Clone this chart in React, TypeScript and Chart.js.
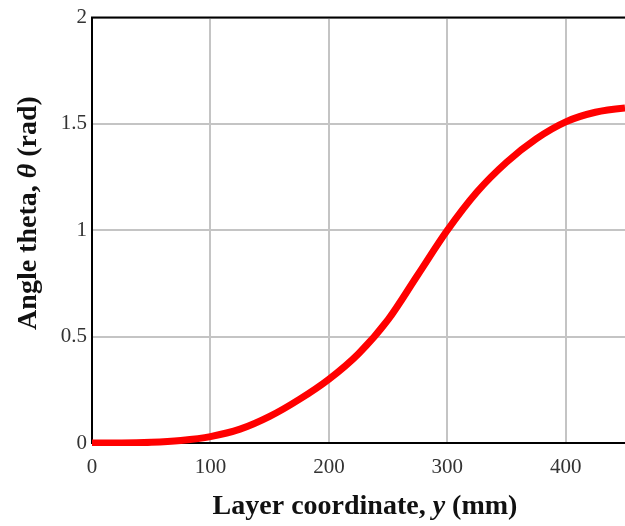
import React, { useEffect, useRef } from "react";
import { Chart, registerables } from "chart.js";

Chart.register(...registerables);

const xValues = [0, 25, 50, 75, 100, 125, 150, 175, 200, 225, 250, 275, 300, 325, 350, 375, 400, 425, 450, 460];
const thetaValues = [0, 0, 0.003, 0.012, 0.03, 0.065, 0.125, 0.205, 0.3, 0.42, 0.58, 0.79, 1.0, 1.18, 1.32, 1.43, 1.51, 1.555, 1.575, 1.578];
const xTicks = [0, 100, 200, 300, 400];
const yTickLabels = ["0", "0.5", "1", "1.5", "2"];

const SERIF = "'Liberation Serif', 'Times New Roman', serif";

function drawMixed(ctx: CanvasRenderingContext2D, parts: { t: string; italic?: boolean }[], size: number) {
  const fonts = parts.map((p) => `${p.italic ? "italic " : ""}bold ${size}px ${SERIF}`);
  let total = 0;
  const widths = parts.map((p, i) => {
    ctx.font = fonts[i];
    const w = ctx.measureText(p.t).width;
    total += w;
    return w;
  });
  let x = -total / 2;
  parts.forEach((p, i) => {
    ctx.font = fonts[i];
    ctx.fillText(p.t, x, 0);
    x += widths[i];
  });
}

const titlePlugin = {
  id: "mixedTitles",
  afterDraw(chart: any) {
    const ctx = chart.ctx as CanvasRenderingContext2D;
    const ca = chart.chartArea;
    ctx.save();
    ctx.strokeStyle = "#000";
    ctx.lineWidth = 2;
    ctx.beginPath();
    ctx.moveTo(ca.left - 1, ca.top);
    ctx.lineTo(ca.right, ca.top);
    ctx.stroke();

    ctx.fillStyle = "#111";
    ctx.textBaseline = "alphabetic";
    ctx.save();
    ctx.translate(365, 514);
    drawMixed(ctx, [{ t: "Layer coordinate, " }, { t: "y", italic: true }, { t: " (mm)" }], 28);
    ctx.restore();
    ctx.save();
    ctx.translate(36, 213);
    ctx.rotate(-Math.PI / 2);
    drawMixed(ctx, [{ t: "Angle theta, " }, { t: "θ", italic: true }, { t: " (rad)" }], 28);
    ctx.restore();
    ctx.restore();
  },
};

export default function App() {
  const ref = useRef<HTMLCanvasElement | null>(null);
  useEffect(() => {
    document.body.style.margin = "0";
    const chart = new Chart(ref.current!, {
      type: "line",
      data: {
        datasets: [
          {
            data: xValues.map((x, i) => ({ x, y: thetaValues[i] })),
            borderColor: "#ff0000",
            borderWidth: 7,
            pointRadius: 0,
            cubicInterpolationMode: "monotone",
            fill: false,
            clip: { left: 0, top: 0, right: 0, bottom: 3 },
          } as any,
        ],
      },
      options: {
        animation: false,
        responsive: false,
        layout: { padding: { top: 14, left: 0, right: 0, bottom: 0 } },
        plugins: { legend: { display: false }, tooltip: { enabled: false } },
        scales: {
          x: {
            type: "linear",
            min: 0,
            max: 450,
            afterBuildTicks: (s: any) => {
              s.ticks = xTicks.map((v) => ({ value: v }));
            },
            afterFit: (s: any) => {
              s.height = 83;
            },
            grid: { color: "#c4c4c4", lineWidth: 2, drawTicks: false },
            border: { color: "#000", width: 2 },
            ticks: {
              padding: 12,
              color: "#333",
              font: { family: SERIF, size: 21 },
              callback: (v: any) => String(v),
            },
          },
          y: {
            type: "linear",
            min: 0,
            max: 2,
            afterBuildTicks: (s: any) => {
              s.ticks = yTickLabels.map((t) => ({ value: parseFloat(t) }));
            },
            afterFit: (s: any) => {
              s.width = 92;
            },
            grid: { color: "#c4c4c4", lineWidth: 2, drawTicks: false },
            border: { color: "#000", width: 2 },
            ticks: {
              padding: 5,
              color: "#333",
              font: { family: SERIF, size: 21 },
              callback: (v: any) => {
                const idx = yTickLabels.findIndex((t) => parseFloat(t) === v);
                return idx >= 0 ? yTickLabels[idx] : "";
              },
            },
          },
        },
      },
      plugins: [titlePlugin],
    });
    return () => chart.destroy();
  }, []);
  return (
    <div style={{ position: "absolute", left: 0, top: 0, width: 625, height: 526, background: "#fff" }}>
      <canvas ref={ref} width={625} height={526} />
    </div>
  );
}
